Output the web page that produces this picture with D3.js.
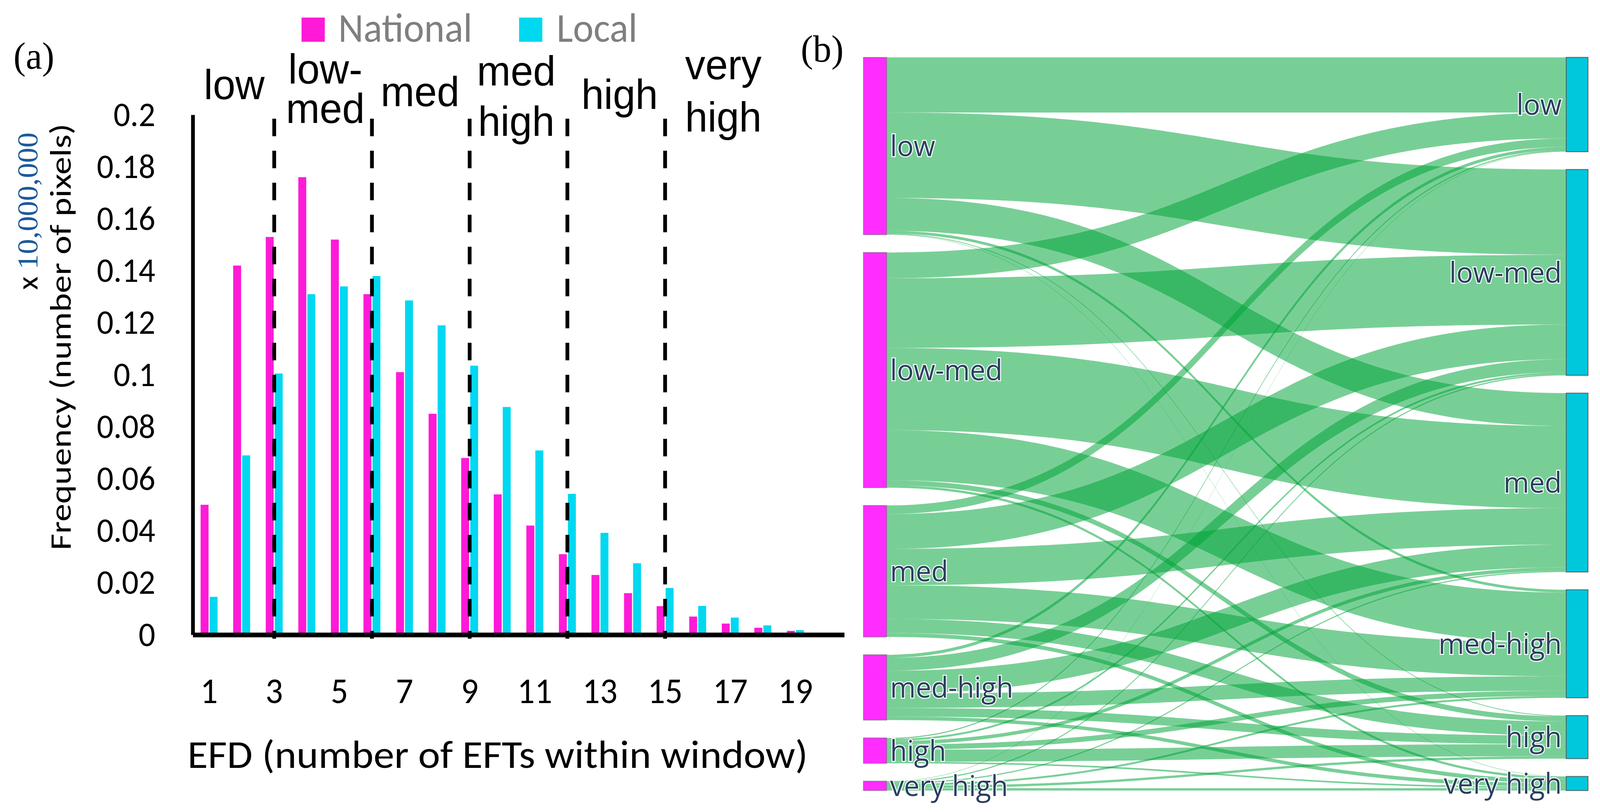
<!DOCTYPE html>
<html>
<head>
<meta charset="utf-8">
<script src="https://cdn.jsdelivr.net/npm/d3@7"></script>
<style>
  html, body { margin: 0; width: 100%; height: 100%; overflow: hidden; background: #fff; }
  svg { display: block; }
</style>
</head>
<body>
<script>
// ---- (a) EFD histogram, frequency in units of 10,000,000 pixels ----
var bins = [1, 2, 3, 4, 5, 6, 7, 8, 9, 10, 11, 12, 13, 14, 15, 16, 17, 18, 19, 20];
var national = [0.050, 0.142, 0.153, 0.176, 0.152, 0.131, 0.101, 0.085, 0.068, 0.054,
                0.042, 0.031, 0.023, 0.016, 0.011, 0.007, 0.0043, 0.0027, 0.0015, 0];
var local = [0.0146, 0.069, 0.1005, 0.131, 0.134, 0.138, 0.1286, 0.119, 0.1035, 0.0876,
             0.0709, 0.0542, 0.0392, 0.0275, 0.018, 0.0111, 0.0066, 0.0036, 0.0018, 0];
var seriesNames = ["National", "Local"];
var yTickValues = [0, 0.02, 0.04, 0.06, 0.08, 0.1, 0.12, 0.14, 0.16, 0.18, 0.2];
var xTickValues = [1, 3, 5, 7, 9, 11, 13, 15, 17, 19];
var thresholds = [3, 6, 9, 12, 15];
var rangeLabels = [["low"], ["low-", "med"], ["med"], ["med", "high"], ["high"], ["very", "high"]];

// ---- (b) national -> local class flows (rows: national, cols: local) ----
var classes = ["low", "low-med", "med", "med-high", "high", "very high"];
var flows = [
  [141, 218, 84, 7, 2, 1],
  [66, 178, 210, 128, 13, 6],
  [22, 89, 93, 86, 36, 10],
  [8, 33, 58, 37, 22, 9],
  [3, 5, 9, 13, 31, 4],
  [1, 3, 3, 5, 6, 6]
];

var W = 4266, H = 2080;
var color = { National: "#ff1ad8", Local: "#00d8f0" };
var sansFont = "Carlito, Lato, sans-serif";

// drawn in a fixed 4266x2080 coordinate space, scaled to whatever the window gives
var svg = d3.select("body").append("svg")
  .attr("viewBox", "0 0 " + W + " " + H)
  .attr("preserveAspectRatio", "none")
  .attr("width", "100%")
  .attr("height", "100%")
  .style("background", "#fff");

// ================= panel (a) =================
var x = d3.scaleBand().domain(bins).range([514, 2251]).paddingInner(0.48).paddingOuter(0.24);
var xs = d3.scaleBand().domain(seriesNames).range([0, x.bandwidth()]).paddingInner(0.12);
var y = d3.scaleLinear().domain([0, 0.2]).range([1626, 294]);
var cx = function (b) { return x(b) + x.bandwidth() / 2; };

// bars
svg.append("g")
  .selectAll("g")
  .data(bins)
  .join("g")
  .attr("transform", function (d) { return "translate(" + x(d) + ",0)"; })
  .selectAll("rect")
  .data(function (d, i) { return [{ s: "National", v: national[i] }, { s: "Local", v: local[i] }]; })
  .join("rect")
  .attr("x", function (d) { return xs(d.s); })
  .attr("y", function (d) { return y(d.v); })
  .attr("width", xs.bandwidth())
  .attr("height", function (d) { return y(0) - y(d.v); })
  .attr("fill", function (d) { return color[d.s]; });

// class threshold lines
svg.append("g")
  .selectAll("line")
  .data(thresholds)
  .join("line")
  .attr("x1", cx).attr("x2", cx)
  .attr("y1", 304).attr("y2", 1636)
  .attr("stroke", "#000")
  .attr("stroke-width", 10)
  .attr("stroke-dasharray", "45,37");

// axes
var yAxis = svg.append("g")
  .attr("transform", "translate(514,0)")
  .call(d3.axisLeft(y).tickValues(yTickValues).tickSize(0).tickSizeOuter(0).tickPadding(100)
    .tickFormat(d3.format("~g")));
yAxis.select(".domain").attr("stroke", "#000").attr("stroke-width", 10);
yAxis.selectAll("text").attr("font-family", sansFont).attr("font-size", 88).attr("fill", "#000");

var xAxis = svg.append("g")
  .attr("transform", "translate(0," + y(0) + ")")
  .call(d3.axisBottom(x).tickValues(xTickValues).tickSize(0).tickSizeOuter(0).tickPadding(110));
xAxis.select(".domain").attr("stroke", "#000").attr("stroke-width", 12);
xAxis.selectAll("text").attr("font-family", sansFont).attr("font-size", 92).attr("fill", "#000");

// axis titles
svg.append("text")
  .attr("x", 500).attr("y", 1967)
  .attr("font-family", sansFont).attr("font-size", 100)
  .attr("textLength", 1654).attr("lengthAdjust", "spacingAndGlyphs")
  .text("EFD (number of EFTs within window)");

svg.append("text")
  .attr("transform", "translate(188,863) rotate(-90)")
  .attr("text-anchor", "middle")
  .attr("font-family", sansFont).attr("font-size", 80)
  .attr("textLength", 1093).attr("lengthAdjust", "spacingAndGlyphs")
  .text("Frequency (number of pixels)");

var mult = svg.append("text")
  .attr("transform", "translate(100,541) rotate(-90)")
  .attr("text-anchor", "middle");
mult.append("tspan").attr("font-family", sansFont).attr("font-size", 80).attr("fill", "#000").text("x ");
mult.append("tspan").attr("font-family", "'Liberation Serif', serif").attr("font-size", 78)
  .attr("fill", "#1c5a9c").text("10,000,000");

// class range labels above the plot
var edges = [x.range()[0]].concat(thresholds.map(cx)).concat([cx(18)]);
var labelLayout = [
  { dx: 2, ys: [254] },
  { dx: 6, ys: [214, 315] },
  { dx: -2, ys: [272] },
  { dx: -6, ys: [219, 348] },
  { dx: 9, ys: [279] },
  { dx: 25, ys: [203, 337] }
];
rangeLabels.forEach(function (lines, i) {
  var mx = (edges[i] + edges[i + 1]) / 2 + labelLayout[i].dx;
  lines.forEach(function (t, k) {
    svg.append("text")
      .attr("x", mx).attr("y", labelLayout[i].ys[k])
      .attr("text-anchor", "middle")
      .attr("font-family", "'Liberation Sans', Arial, sans-serif")
      .attr("font-size", 108)
      .attr("fill", "#000")
      .text(t);
  });
});

// legend
var legend = svg.append("g");
legend.selectAll("rect")
  .data(seriesNames)
  .join("rect")
  .attr("x", function (d, i) { return [804, 1384][i]; })
  .attr("y", 45).attr("width", 62).attr("height", 62)
  .attr("fill", function (d) { return color[d]; });
legend.selectAll("text")
  .data(seriesNames)
  .join("text")
  .attr("x", function (d, i) { return [902, 1484][i]; })
  .attr("y", 107)
  .attr("font-family", sansFont).attr("font-size", 104)
  .attr("fill", "#7f7f7f")
  .text(function (d) { return d; });

// panel letters
svg.append("text").attr("x", 36).attr("y", 176)
  .attr("font-family", "'Liberation Serif', serif").attr("font-size", 98).text("(a)");
svg.append("text").attr("x", 2135).attr("y", 158)
  .attr("font-family", "'Liberation Serif', serif").attr("font-size", 98).text("(b)");

// ================= panel (b) : sankey =================
var sTop = 147, sBottom = 2025, nodeGap = 45.6;
var leftX = [2302, 2364], rightX = [4176, 4234];
var total = d3.sum(flows, function (r) { return d3.sum(r); });
var ky = d3.scaleLinear().domain([0, total]).range([0, sBottom - sTop - nodeGap * (classes.length - 1)]);

var rowSums = flows.map(function (r) { return d3.sum(r); });
var colSums = classes.map(function (c, j) { return d3.sum(flows, function (r) { return r[j]; }); });

function stack(sums) {
  var yy = sTop;
  return sums.map(function (v, i) {
    var n = { name: classes[i], y0: yy, y1: yy + ky(v) };
    yy = n.y1 + nodeGap;
    return n;
  });
}
var leftNodes = stack(rowSums);
var rightNodes = stack(colSums);

var links = [];
flows.forEach(function (row, i) {
  row.forEach(function (v, j) { links.push({ s: i, t: j, w: ky(v) }); });
});
// offsets at source (ordered by target) and at target (ordered by source)
leftNodes.forEach(function (n, i) {
  var off = n.y0;
  links.filter(function (l) { return l.s === i; }).forEach(function (l) { l.sy = off; off += l.w; });
});
rightNodes.forEach(function (n, j) {
  var off = n.y0;
  links.filter(function (l) { return l.t === j; }).forEach(function (l) { l.ty = off; off += l.w; });
});

function linkPath(l) {
  var x0 = leftX[1], x1 = rightX[0], xm = (x0 + x1) / 2;
  var p = d3.path();
  p.moveTo(x0, l.sy);
  p.bezierCurveTo(xm, l.sy, xm, l.ty, x1, l.ty);
  p.lineTo(x1, l.ty + l.w);
  p.bezierCurveTo(xm, l.ty + l.w, xm, l.sy + l.w, x0, l.sy + l.w);
  p.closePath();
  return p.toString();
}

svg.append("g")
  .selectAll("path")
  .data(links)
  .join("path")
  .attr("d", linkPath)
  .attr("fill", "rgb(0,164,56)")
  .attr("fill-opacity", 0.53);

// nodes
svg.append("g")
  .selectAll("rect")
  .data(leftNodes)
  .join("rect")
  .attr("x", leftX[0]).attr("width", leftX[1] - leftX[0])
  .attr("y", function (d) { return d.y0; })
  .attr("height", function (d) { return d.y1 - d.y0; })
  .attr("fill", "#ff2eff")
  .attr("stroke", "#666").attr("stroke-opacity", 0.6).attr("stroke-width", 2);

svg.append("g")
  .selectAll("rect")
  .data(rightNodes)
  .join("rect")
  .attr("x", rightX[0]).attr("width", rightX[1] - rightX[0])
  .attr("y", function (d) { return d.y0; })
  .attr("height", function (d) { return d.y1 - d.y0; })
  .attr("fill", "#00c8dc")
  .attr("stroke", "#444").attr("stroke-opacity", 0.7).attr("stroke-width", 2.5);

// node labels
function nodeLabels(nodes, xPos, anchor) {
  svg.append("g")
    .selectAll("text")
    .data(nodes)
    .join("text")
    .attr("x", xPos)
    .attr("y", function (d) { return (d.y0 + d.y1) / 2; })
    .attr("dy", "0.35em")
    .attr("text-anchor", anchor)
    .attr("font-family", "'Open Sans', sans-serif")
    .attr("font-size", 74)
    .attr("fill", "#2a3f5f")
    .attr("stroke", "#fff").attr("stroke-width", 5)
    .style("paint-order", "stroke")
    .text(function (d) { return d.name; });
}
nodeLabels(leftNodes, leftX[1] + 9, "start");
nodeLabels(rightNodes, rightX[0] - 12, "end");
</script>
</body>
</html>
